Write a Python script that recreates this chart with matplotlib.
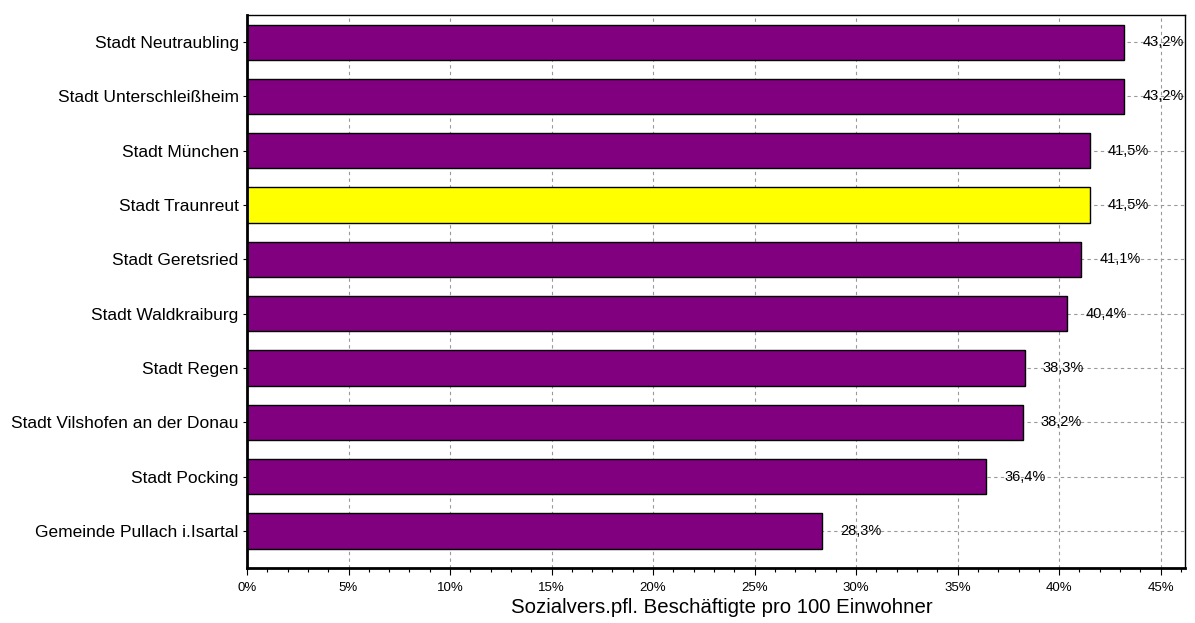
import matplotlib
matplotlib.use("Agg")
import matplotlib.pyplot as plt
from matplotlib.ticker import MultipleLocator, FuncFormatter

categories = ["Stadt Neutraubling", "Stadt Unterschleißheim", "Stadt München", "Stadt Traunreut",
              "Stadt Geretsried", "Stadt Waldkraiburg", "Stadt Regen", "Stadt Vilshofen an der Donau",
              "Stadt Pocking", "Gemeinde Pullach i.Isartal"]
values = [43.2, 43.2, 41.5, 41.5, 41.1, 40.4, 38.3, 38.2, 36.4, 28.3]
highlight = "Stadt Traunreut"
xlabel = "Sozialvers.pfl. Beschäftigte pro 100 Einwohner"

plt.rcParams['font.family'] = ['Liberation Sans', 'DejaVu Sans']

fig = plt.figure(figsize=(11.95, 6.23), dpi=100)
ax = fig.add_axes([247/1195, 1-568/623, (1185-247)/1195, (568-15)/623])

ys = list(range(len(categories)))
colors = ["#ffff00" if c == highlight else "#800080" for c in categories]

for y in ys:
    ax.axhline(y, color="#999999", linestyle=(0, (3, 3)), linewidth=0.8, zorder=0)
for xv in range(5, 50, 5):
    ax.axvline(xv, color="#999999", linestyle=(0, (3, 3)), linewidth=0.8, zorder=0)

ax.barh(ys, values, height=0.65, color=colors, edgecolor="black", linewidth=1, zorder=2)
for y, v in zip(ys, values):
    ax.text(v + 0.9, y, f"{v:.1f}%".replace(".", ","), va="center", ha="left", fontsize=10.5, zorder=3)

ax.set_xlim(0, 46.2)
ax.set_ylim(9.68, -0.5)
ax.set_yticks(ys)
ax.set_yticklabels(categories, fontsize=12.5)
ax.xaxis.set_major_locator(MultipleLocator(5))
ax.xaxis.set_minor_locator(MultipleLocator(1))
ax.xaxis.set_major_formatter(FuncFormatter(lambda x, p: f"{int(round(x))}%"))
ax.tick_params(axis="x", labelsize=9.5, length=5, width=0.8, pad=5)
ax.tick_params(axis="x", which="minor", length=3, width=0.8)
ax.tick_params(axis="y", length=3, width=0.8, pad=3)
ax.set_xlabel(xlabel, fontsize=14.7)
ax.xaxis.set_label_coords(0.506, -0.055)

for s in ["left", "bottom"]:
    ax.spines[s].set_linewidth(2)
for s in ["top", "right"]:
    ax.spines[s].set_linewidth(1)

fig.savefig("out.png", dpi=100, facecolor="white")
